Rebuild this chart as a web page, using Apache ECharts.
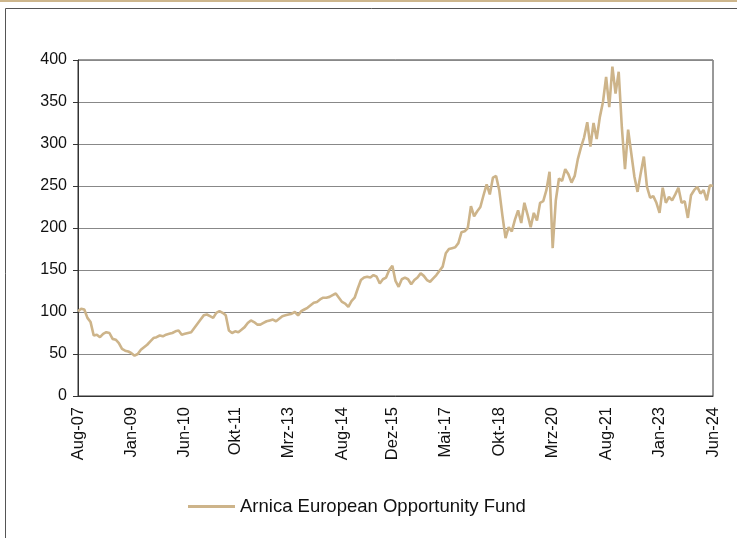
<!DOCTYPE html>
<html>
<head>
<meta charset="utf-8">
<title>Arnica European Opportunity Fund</title>
<script src="https://cdn.jsdelivr.net/npm/echarts@6/dist/echarts.min.js"></script>
<style>
  html, body { margin: 0; padding: 0; background: #fff; }
  #chart { width: 737px; height: 538px; }
</style>
</head>
<body>
<div id="chart"></div>
<script>
// monthly series, Aug-07 .. Jun-24
const startYear = 2007
const startMonth = 7 // August (0-based)
const monthNames = ['Jan', 'Feb', 'Mrz', 'Apr', 'Mai', 'Jun', 'Jul', 'Aug', 'Sep', 'Okt', 'Nov', 'Dez']

const tickLabels = ['Aug-07', 'Jan-09', 'Jun-10', 'Okt-11', 'Mrz-13', 'Aug-14', 'Dez-15',
  'Mai-17', 'Okt-18', 'Mrz-20', 'Aug-21', 'Jan-23', 'Jun-24']

const fundName = 'Arnica European Opportunity Fund'
const fundValues = [
  101, 104, 103, 93, 88, 72, 73, 70, 74, 76, 75, 68, 67, 63, 56, 54, 53, 51, 48, 50,
  55, 58, 61, 65, 69, 70, 72, 71, 73, 74, 75, 77, 78, 73, 74, 75, 76, 81, 86, 91,
  96, 97, 95, 93, 99, 101, 99, 96, 78, 75, 77, 76, 79, 82, 87, 90, 88, 85, 85, 87,
  89, 90, 91, 89, 92, 95, 96, 97, 98, 100, 96, 101, 103, 105, 108, 111, 112, 115, 117, 117,
  118, 120, 122, 117, 112, 110, 106, 113, 117, 128, 138, 141, 142, 141, 144, 142, 134, 139, 141, 150,
  155, 137, 130, 139, 141, 139, 133, 138, 141, 146, 143, 138, 136, 140, 144, 149, 154, 170, 175, 176,
  177, 182, 195, 196, 200, 226, 214, 220, 225, 239, 252, 240, 260, 262, 245, 215, 188, 201, 196, 210,
  221, 206, 230, 216, 201, 218, 209, 230, 232, 245, 267, 176, 233, 259, 256, 270, 264, 254, 262, 282,
  296, 308, 326, 297, 325, 306, 332, 350, 380, 344, 392, 360, 386, 320, 270, 317, 289, 261, 243, 265,
  285, 249, 236, 238, 230, 218, 248, 230, 237, 233, 240, 248, 230, 232, 212, 239, 245, 249, 241, 245,
  233, 251, 250
]

const yTicks = [0, 50, 100, 150, 200, 250, 300, 350, 400]

// month labels like 'Aug-07'
const categories = fundValues.map((v, i) => {
  const m = startMonth + i
  const y = startYear + Math.floor(m / 12)
  return monthNames[m % 12] + '-' + String(y % 100).padStart(2, '0')
})

const chart = echarts.init(document.getElementById('chart'))

chart.setOption({
  backgroundColor: '#fff',
  animation: false,
  textStyle: { fontFamily: 'Liberation Sans, Arial, sans-serif' },
  graphic: [
    // thin tan rule at top and outer frame
    { type: 'rect', shape: { x: 0, y: 0, width: 737, height: 2 }, style: { fill: '#cdb68c' }, silent: true },
    { type: 'rect', shape: { x: 5.5, y: 8.5, width: 760, height: 560 }, style: { fill: 'none', stroke: '#555', lineWidth: 1 }, silent: true }
  ],
  grid: {
    left: 78,
    right: 24,
    top: 60,
    bottom: 142,
    show: true,
    borderColor: '#333',
    borderWidth: 1
  },
  legend: {
    left: 183,
    top: 492,
    itemWidth: 47,
    itemHeight: 3,
    icon: 'rect',
    textStyle: { fontSize: 18.5, color: '#111' },
    data: [fundName]
  },
  xAxis: {
    type: 'category',
    data: categories,
    boundaryGap: false,
    axisLine: { lineStyle: { color: '#333' } },
    axisTick: { show: false },
    axisLabel: {
      rotate: 90,
      margin: 11,
      fontSize: 16.5,
      color: '#111',
      interval: (idx, val) => tickLabels.includes(val)
    },
    splitLine: { show: false }
  },
  yAxis: {
    type: 'value',
    min: yTicks[0],
    max: yTicks[yTicks.length - 1],
    interval: 50,
    axisLine: { show: true, lineStyle: { color: '#333' } },
    axisTick: { show: true, length: 5, lineStyle: { color: '#333' } },
    axisLabel: { fontSize: 16, color: '#111', margin: 11 },
    splitLine: { lineStyle: { color: '#888', width: 1.2 } }
  },
  series: [
    {
      name: fundName,
      type: 'line',
      data: fundValues,
      symbol: 'none',
      lineStyle: { color: '#cdb48a', width: 2.6 },
      itemStyle: { color: '#cdb48a' }
    }
  ]
})
</script>
</body>
</html>
